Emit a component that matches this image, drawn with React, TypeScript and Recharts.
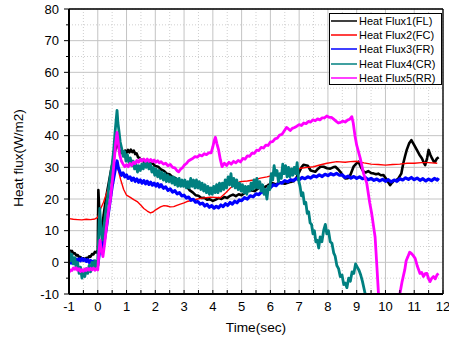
import React from 'react';
import { LineChart, Line, XAxis, YAxis, CartesianGrid, ReferenceLine, Legend } from 'recharts';

const FONT = "Arial, 'Liberation Sans', Helvetica, sans-serif";
const W = 449;
const H = 339;
const PL = 69;
const PT = 9;
const PR = 443;
const PB = 294;

const X_MAJOR = [-1, 0, 1, 2, 3, 4, 5, 6, 7, 8, 9, 10, 11, 12];
const X_MINOR = [-0.5, 0.5, 1.5, 2.5, 3.5, 4.5, 5.5, 6.5, 7.5, 8.5, 9.5, 10.5, 11.5];
const Y_MAJOR = [-10, 0, 10, 20, 30, 40, 50, 60, 70, 80];
const Y_MINOR = [-5, 5, 15, 25, 35, 45, 55, 65, 75];
const X_ALL = [...X_MAJOR, ...X_MINOR].sort((a, b) => a - b);
const Y_ALL = [...Y_MAJOR, ...Y_MINOR].sort((a, b) => a - b);

const NAMES = ['Heat Flux1(FL)', 'Heat Flux2(FC)', 'Heat Flux3(FR)', 'Heat Flux4(CR)', 'Heat Flux5(RR)'];
const COLORS = ['#000000', '#ff0000', '#0000ff', '#008080', '#ff00ff'];

// [time (sec), heat flux (W/m2)]
const FL: [number, number][] = [
  [-1, 4], [-0.95, 3.4], [-0.9, 3.6], [-0.85, 2.8], [-0.8, 2.9], [-0.75, 2.2], [-0.7, 2.3], [-0.65, 1.6], [-0.6, 1.7],
  [-0.55, 1.1], [-0.5, 1.3], [-0.45, 0.9], [-0.4, 1.4], [-0.35, 1.2], [-0.3, 1.9], [-0.25, 1.8], [-0.2, 2.6], [-0.15, 2.5],
  [-0.1, 3.3], [-0.05, 3.1], [0, 3.8], [0.02, 22.8], [0.05, 17], [0.08, 12], [0.12, 10], [0.17, 12.5], [0.22, 16],
  [0.3, 21], [0.38, 25], [0.46, 29], [0.54, 32.5], [0.62, 36], [0.66, 38.5], [0.7, 37], [0.75, 35.5], [0.8, 34.5],
  [0.85, 35.2], [0.9, 34.3], [0.95, 35.3], [1.0, 34.6], [1.05, 35.5], [1.1, 34.7], [1.15, 35.6], [1.2, 34.8], [1.25, 35.3],
  [1.3, 34.2], [1.35, 34.4], [1.4, 33.2], [1.45, 33.0], [1.5, 32.2], [1.55, 32.4], [1.6, 31.7], [1.7, 31.9], [1.8, 31.1],
  [1.9, 31.3], [2.0, 30.4], [2.1, 30.2], [2.2, 29.3], [2.3, 28.9], [2.4, 28.0], [2.5, 27.8], [2.6, 26.9], [2.7, 26.6],
  [2.8, 25.7], [2.9, 25.4], [3.0, 24.6], [3.1, 23.9], [3.2, 22.7], [3.3, 22.1], [3.4, 21.2], [3.5, 21.0], [3.6, 20.3],
  [3.7, 20.4], [3.8, 19.8], [3.9, 19.9], [4.0, 19.4], [4.1, 19.8], [4.2, 20.3], [4.3, 20.0], [4.4, 20.6], [4.5, 20.3],
  [4.6, 21.0], [4.7, 21.4], [4.8, 20.9], [4.9, 21.5], [5.0, 21.2], [5.15, 22.2], [5.3, 22.8], [5.45, 22.5], [5.6, 23.5],
  [5.75, 23.6], [5.9, 24.2], [6.05, 25.1], [6.2, 24.6], [6.35, 25.2], [6.5, 24.8], [6.65, 25.3], [6.8, 25.6], [6.9, 26.6],
  [7.0, 28.5], [7.08, 30], [7.15, 30.8], [7.3, 30.5], [7.4, 29], [7.56, 28.6], [7.65, 29.5], [7.74, 30.2], [7.85, 30.2],
  [7.97, 29.7], [8.08, 29.6], [8.18, 30.0], [8.26, 30.2], [8.35, 29.4], [8.43, 28.6], [8.52, 27.4], [8.6, 26.5], [8.7, 26.6],
  [8.78, 27.6], [8.84, 29], [8.89, 30.2], [8.97, 31.0], [9.06, 31.8], [9.15, 30.0], [9.24, 28.6], [9.32, 28.4], [9.4, 28.8],
  [9.5, 28.2], [9.58, 28.1], [9.67, 27.8], [9.75, 28.0], [9.84, 27.5], [9.93, 27.6], [10.05, 26.0], [10.16, 24.4],
  [10.23, 25.2], [10.3, 25.8], [10.38, 26.0], [10.45, 26.5], [10.55, 28], [10.62, 31.3], [10.68, 33.5], [10.74, 35.5],
  [10.82, 37.5], [10.9, 38.6], [11.0, 37], [11.09, 35.5], [11.18, 34], [11.27, 32.8], [11.33, 31.5], [11.38, 30.7],
  [11.45, 33], [11.5, 35.5], [11.56, 34], [11.62, 32.8], [11.68, 31.8], [11.73, 31.8], [11.79, 32.8], [11.85, 33.2],
];

const FC: [number, number][] = [
  [-1, 13.8], [-0.85, 13.6], [-0.7, 13.5], [-0.55, 13.4], [-0.4, 13.6], [-0.25, 13.5], [-0.1, 13.7], [0, 14.2],
  [0.08, 16.5], [0.2, 19], [0.35, 23], [0.5, 27], [0.62, 30], [0.7, 29.5], [0.8, 26], [0.9, 23], [1.0, 21.2],
  [1.13, 20.5], [1.25, 19.8], [1.37, 19.2], [1.5, 18.0], [1.6, 17.0], [1.72, 16.2], [1.83, 15.6], [1.92, 15.9],
  [2.0, 16.5], [2.18, 17.5], [2.3, 17.9], [2.41, 17.8], [2.52, 17.5], [2.64, 17.6], [2.75, 18.0], [2.87, 18.4],
  [3.0, 18.8], [3.1, 19.2], [3.33, 19.7], [3.57, 20.2], [3.91, 20.6], [4.26, 20.4], [4.45, 22], [4.6, 23.4],
  [4.8, 24.8], [4.95, 25.5], [5.2, 25.7], [5.42, 26], [5.65, 26.6], [5.88, 27], [6.1, 27.5], [6.34, 27.7],
  [6.69, 28.5], [7.04, 29.7], [7.3, 30], [7.5, 30.2], [7.75, 30.8], [7.97, 31.3], [8.31, 31.8], [8.6, 31.6],
  [8.78, 31.8], [9.0, 31.9], [9.25, 31.4], [9.5, 31.0], [9.75, 30.9], [10.0, 30.7], [10.25, 30.9], [10.5, 31.0],
  [10.75, 31.3], [11.0, 31.3], [11.25, 31.5], [11.5, 31.5], [11.8, 31.3],
];

const FR: [number, number][] = [
  [-1, -0.5], [-0.95, 0.4], [-0.9, -0.2], [-0.85, 0.7], [-0.8, 0.2], [-0.75, 1.0], [-0.7, 0.4], [-0.65, 1.1], [-0.6, 0.5],
  [-0.55, 1.2], [-0.5, 0.6], [-0.45, 1.0], [-0.4, 0.3], [-0.35, 0.8], [-0.3, 0.0], [-0.25, 0.6], [-0.2, -0.3], [-0.15, 0.4],
  [-0.1, -0.6], [-0.05, 0.0], [0, -1.0], [0.04, 2], [0.08, 5], [0.13, 6.5], [0.18, 4.5], [0.23, 7], [0.3, 11], [0.36, 15],
  [0.43, 19.5], [0.5, 24], [0.58, 28], [0.64, 31], [0.67, 32], [0.71, 30], [0.76, 28.8], [0.82, 27.5], [0.88, 28.2],
  [0.94, 27.0], [1.0, 27.6], [1.06, 26.5], [1.12, 27.0], [1.18, 25.9], [1.24, 26.6], [1.3, 25.6], [1.36, 26.3], [1.42, 25.3],
  [1.48, 26.0], [1.54, 25.0], [1.6, 25.8], [1.66, 24.8], [1.72, 25.6], [1.78, 24.6], [1.84, 25.3], [1.9, 24.4], [1.96, 25.0],
  [2.02, 24.1], [2.08, 24.8], [2.14, 23.8], [2.2, 24.5], [2.28, 23.4], [2.36, 23.8], [2.44, 22.7], [2.52, 23.2], [2.6, 22.2],
  [2.68, 22.6], [2.76, 21.6], [2.84, 22.0], [2.92, 21.0], [3.0, 21.2], [3.08, 20.3], [3.16, 20.6], [3.24, 19.6], [3.32, 19.9],
  [3.4, 19.0], [3.48, 19.2], [3.56, 18.4], [3.64, 18.7], [3.72, 17.8], [3.8, 18.3], [3.88, 17.4], [3.96, 17.9], [4.04, 17.1],
  [4.12, 17.7], [4.2, 17.2], [4.28, 18.1], [4.36, 17.6], [4.44, 18.5], [4.52, 18.0], [4.6, 18.9], [4.68, 18.4], [4.76, 19.3],
  [4.84, 18.8], [4.92, 19.7], [5.0, 19.5], [5.1, 20.4], [5.2, 20.0], [5.3, 21.0], [5.4, 20.7], [5.5, 21.6], [5.6, 21.4],
  [5.7, 22.3], [5.8, 22.0], [5.9, 23.0], [6.0, 23.6], [6.1, 24.5], [6.2, 24.2], [6.3, 25.2], [6.4, 25.0], [6.5, 25.8],
  [6.6, 25.4], [6.7, 26.1], [6.8, 25.8], [6.9, 26.5], [7.0, 26.1], [7.1, 26.8], [7.2, 26.4], [7.3, 27.0], [7.4, 26.6],
  [7.5, 27.3], [7.6, 27.0], [7.7, 27.6], [7.8, 27.1], [7.9, 27.8], [8.0, 27.4], [8.1, 28.0], [8.2, 27.6], [8.3, 28.1],
  [8.4, 27.5], [8.5, 27.6], [8.6, 26.8], [8.7, 27.2], [8.8, 26.6], [8.9, 27.1], [9.0, 26.5], [9.1, 27.0], [9.2, 26.4],
  [9.3, 26.8], [9.4, 26.1], [9.5, 26.5], [9.6, 25.9], [9.7, 26.3], [9.8, 25.7], [9.9, 26.2], [10.0, 25.6], [10.1, 26.1],
  [10.2, 25.4], [10.3, 26.0], [10.4, 25.6], [10.5, 26.4], [10.6, 26.0], [10.7, 26.7], [10.8, 26.2], [10.9, 26.8],
  [11.0, 26.1], [11.1, 26.6], [11.2, 25.9], [11.3, 26.4], [11.4, 25.7], [11.5, 26.3], [11.6, 25.8], [11.7, 26.5],
  [11.8, 26.0], [11.85, 26.6],
];

const CR: [number, number][] = [
  [-1, 3.5], [-0.95, 0.5], [-0.9, 2.5], [-0.85, -0.5], [-0.8, 1.5], [-0.75, -2], [-0.7, 0], [-0.65, -3.5], [-0.6, -1.5],
  [-0.55, -5], [-0.5, -2.5], [-0.45, -4.5], [-0.4, -2], [-0.35, -3.5], [-0.3, -1], [-0.25, -3], [-0.2, 0], [-0.15, -2],
  [-0.1, 0.5], [-0.05, -1.5], [0, 1], [0.04, 10], [0.07, 17], [0.1, 12], [0.15, 7], [0.2, 10], [0.25, 14], [0.3, 18],
  [0.35, 21], [0.4, 25], [0.45, 28], [0.5, 31], [0.55, 35], [0.6, 41], [0.64, 45], [0.67, 48], [0.7, 44], [0.73, 42],
  [0.78, 38], [0.83, 36], [0.88, 33.5], [0.93, 35], [0.98, 32], [1.03, 34], [1.08, 31.5], [1.13, 33], [1.18, 30.5],
  [1.23, 32], [1.28, 29.5], [1.33, 31], [1.38, 28.5], [1.43, 30.5], [1.48, 29], [1.53, 31], [1.58, 29.5], [1.63, 31.5],
  [1.68, 30], [1.73, 32], [1.78, 29.5], [1.83, 31], [1.88, 28.5], [1.93, 30], [1.98, 27.5], [2.03, 29.5], [2.08, 27],
  [2.13, 29], [2.18, 26.5], [2.23, 28.5], [2.28, 26], [2.33, 28], [2.38, 25.5], [2.43, 27.5], [2.48, 25.5], [2.53, 27],
  [2.58, 25], [2.63, 27], [2.68, 24.5], [2.73, 26.5], [2.78, 24], [2.83, 26.5], [2.88, 24], [2.93, 26], [2.98, 24],
  [3.03, 26], [3.08, 23.5], [3.13, 25.5], [3.18, 23.5], [3.23, 26.5], [3.28, 24], [3.33, 26], [3.38, 23.5], [3.43, 26],
  [3.48, 23.5], [3.53, 25.5], [3.58, 23], [3.63, 25], [3.68, 22.5], [3.73, 24.5], [3.78, 22], [3.83, 24], [3.88, 21.5],
  [3.93, 23.5], [3.98, 21.5], [4.03, 24], [4.08, 22], [4.13, 24.5], [4.18, 22], [4.23, 25], [4.28, 22.5], [4.33, 25],
  [4.38, 23], [4.43, 26], [4.48, 23.5], [4.53, 27], [4.58, 24.5], [4.63, 28], [4.68, 24], [4.73, 26.5], [4.78, 23.5],
  [4.83, 26], [4.88, 23], [4.93, 25], [4.98, 22.5], [5.03, 24.5], [5.08, 22], [5.13, 24], [5.18, 21.5], [5.23, 24],
  [5.28, 22.5], [5.33, 25], [5.38, 23], [5.43, 26], [5.48, 23.5], [5.53, 26.5], [5.58, 23.5], [5.63, 25.5], [5.68, 22.5],
  [5.73, 24.5], [5.78, 21.5], [5.83, 23], [5.88, 20], [5.93, 24], [5.98, 23], [6.03, 28], [6.08, 26], [6.13, 30.5],
  [6.18, 27.5], [6.23, 29], [6.28, 25.5], [6.33, 28], [6.38, 26.5], [6.43, 31], [6.48, 28], [6.53, 30.5], [6.58, 27],
  [6.63, 30], [6.68, 27], [6.73, 29.5], [6.78, 27.5], [6.83, 30], [6.88, 28], [6.93, 31.5], [6.98, 26], [7.03, 24],
  [7.08, 21], [7.13, 22], [7.18, 18.5], [7.23, 19], [7.28, 15.5], [7.33, 16], [7.38, 12.5], [7.43, 12], [7.48, 9],
  [7.53, 10], [7.58, 6.5], [7.63, 7], [7.68, 4.5], [7.73, 8], [7.79, 6.5], [7.85, 10], [7.91, 12], [7.96, 9], [8.02, 10],
  [8.08, 6.5], [8.14, 6], [8.2, 3], [8.25, 2], [8.31, -1], [8.37, -2], [8.43, -4.5], [8.49, -4], [8.55, -7], [8.6, -6.5],
  [8.66, -8], [8.72, -5], [8.78, -6], [8.84, -3], [8.9, -3.5], [8.96, -0.5], [9.02, -1.5], [9.08, -2.5], [9.14, -4],
  [9.2, -6], [9.26, -8.5], [9.32, -11], [9.36, -13],
];

const RR: [number, number][] = [
  [-1, -3.2], [-0.95, -2.4], [-0.9, -2.6], [-0.85, -1.8], [-0.8, -2.2], [-0.75, -1.7], [-0.7, -2.5], [-0.65, -2.0],
  [-0.6, -2.9], [-0.55, -2.3], [-0.5, -2.8], [-0.45, -2.1], [-0.4, -2.6], [-0.35, -1.9], [-0.3, -2.5], [-0.25, -1.9],
  [-0.2, -2.4], [-0.15, -1.8], [-0.1, -2.5], [-0.05, -2.0], [0, -2.4], [0.04, 3], [0.08, 7], [0.12, 4], [0.18, 1.8],
  [0.24, 6], [0.3, 11], [0.37, 16], [0.44, 20], [0.52, 27], [0.58, 33], [0.62, 37.5], [0.67, 41], [0.71, 38], [0.76, 34],
  [0.82, 32], [0.88, 31], [0.94, 30.2], [1.0, 30.8], [1.06, 30.2], [1.12, 31.2], [1.18, 30.6], [1.24, 31.6], [1.3, 31.2],
  [1.36, 32.2], [1.42, 31.6], [1.48, 32.6], [1.54, 32.0], [1.6, 32.6], [1.66, 31.9], [1.72, 32.6], [1.78, 31.9],
  [1.84, 32.5], [1.9, 31.8], [1.96, 32.3], [2.02, 31.6], [2.08, 32.1], [2.14, 31.4], [2.2, 31.8], [2.28, 31.0],
  [2.36, 31.3], [2.44, 30.5], [2.52, 30.9], [2.6, 30.0], [2.68, 29.8], [2.76, 28.9], [2.81, 28.6], [2.88, 29.4],
  [2.94, 29.8], [3.0, 30.6], [3.08, 31.2], [3.15, 32.0], [3.22, 32.4], [3.3, 32.8], [3.38, 33.4], [3.46, 33.2],
  [3.54, 33.9], [3.62, 33.6], [3.7, 34.3], [3.78, 34.0], [3.86, 34.6], [3.94, 34.6], [4.0, 36.5], [4.05, 38.5],
  [4.09, 39.5], [4.14, 37.5], [4.2, 35.5], [4.26, 32.5], [4.32, 30.2], [4.4, 31.3], [4.48, 30.6], [4.56, 31.6],
  [4.64, 31.0], [4.72, 31.9], [4.8, 31.4], [4.88, 32.2], [4.96, 31.7], [5.04, 32.8], [5.12, 32.6], [5.2, 33.6],
  [5.28, 33.5], [5.36, 34.5], [5.44, 34.4], [5.52, 35.4], [5.6, 35.3], [5.68, 36.3], [5.76, 36.1], [5.84, 37.0],
  [5.92, 36.9], [6.0, 38.0], [6.08, 38.1], [6.16, 39.0], [6.24, 39.2], [6.32, 40.2], [6.4, 40.4], [6.48, 41.5],
  [6.56, 42.6], [6.62, 42.2], [6.69, 41.6], [6.76, 42.3], [6.84, 42.6], [6.92, 43.0], [7.0, 43.5], [7.08, 43.2],
  [7.16, 44.0], [7.24, 43.8], [7.32, 44.5], [7.4, 44.3], [7.48, 45.0], [7.56, 44.7], [7.64, 45.3], [7.72, 45.0],
  [7.8, 45.6], [7.88, 45.6], [7.96, 46.2], [8.04, 45.8], [8.12, 45.8], [8.2, 45.2], [8.28, 44.6], [8.36, 44.0],
  [8.44, 44.2], [8.52, 44.6], [8.6, 44.3], [8.68, 44.9], [8.76, 45.2], [8.83, 46], [8.88, 44], [8.94, 40], [9.0, 37],
  [9.12, 33], [9.24, 28], [9.35, 25], [9.45, 19], [9.52, 15.5], [9.6, 10.5], [9.64, 8], [9.7, -1], [9.76, -10.3],
  [9.8, -14], [10.45, -14], [10.5, -10], [10.58, -6], [10.67, -2.4], [10.72, 0.5], [10.78, 1.8], [10.84, 3.2],
  [10.9, 2.8], [10.96, 2.2], [11.03, 1.3], [11.1, -1.0], [11.2, -3.5], [11.26, -3.2], [11.32, -4.5], [11.38, -3.6],
  [11.44, -3.5], [11.5, -5.2], [11.55, -6.1], [11.61, -5.0], [11.67, -4.5], [11.73, -5.2], [11.79, -4], [11.84, -3.5],
];

const SERIES = [FL, FC, FR, CR, RR];
const WIDTHS = [2.6, 1.4, 3.2, 2.8, 2.8];

const toRows = (pts: [number, number][]) => pts.map(([t, v]) => ({ t, v }));

const XTick = (props: any) => {
  const { x, payload } = props;
  const val = payload.value;
  const major = Number.isInteger(val);
  return (
    <g>
      <line x1={x} x2={x} y1={PB} y2={PB - 4} stroke="#000" strokeWidth={1} />
      {major && (
        <text x={x} y={311} textAnchor="middle" fontSize={13} fontFamily={FONT} fill="#000">
          {String(val)}
        </text>
      )}
    </g>
  );
};

const YTick = (props: any) => {
  const { y, payload } = props;
  const val = payload.value;
  const major = val % 10 === 0;
  return (
    <g>
      <line x1={PL - (major ? 5 : 3)} x2={PL} y1={y} y2={y} stroke="#000" strokeWidth={1} />
      {major && (
        <text x={59} y={y + 4.6} textAnchor="end" fontSize={13} fontFamily={FONT} fill="#000">
          {String(val)}
        </text>
      )}
    </g>
  );
};

const XLabel = () => (
  <text x={256} y={332} textAnchor="middle" fontSize={13.7} fontFamily={FONT} fill="#000">
    Time(sec)
  </text>
);

const YLabel = () => (
  <text x={0} y={0} transform="translate(23,158) rotate(-90)" textAnchor="middle" fontSize={13.5} fontFamily={FONT} fill="#000">
    Heat flux(W/m2)
  </text>
);

const LegendBox = () => (
  <div
    style={{
      boxSizing: 'border-box',
      width: 113,
      height: 72,
      border: '1px solid #000',
      background: '#fff',
      fontFamily: FONT,
      fontSize: 11,
      color: '#000',
      paddingTop: 0,
    }}
  >
    {NAMES.map((n, i) => (
      <div key={n} style={{ height: 14.2, display: 'flex', alignItems: 'center', whiteSpace: 'nowrap' }}>
        <svg width={29} height={14} style={{ display: 'block', flex: 'none' }}>
          <line x1={1} x2={27} y1={7} y2={7} stroke={COLORS[i]} strokeWidth={1.5} />
        </svg>
        <span style={{ lineHeight: '14px' }}>{n}</span>
      </div>
    ))}
  </div>
);

export default function App() {
  return (
    <div style={{ position: 'absolute', left: 0, top: 0, width: W, height: H, overflow: 'hidden', background: '#fff' }}>
      <LineChart width={W} height={H} margin={{ top: PT, right: W - PR, bottom: 0, left: 0 }}>
        <XAxis xAxisId="maj" type="number" dataKey="t" domain={[-1, 12]} ticks={X_MAJOR} hide allowDataOverflow />
        <XAxis xAxisId="min" type="number" dataKey="t" domain={[-1, 12]} ticks={X_MINOR} hide allowDataOverflow />
        <YAxis yAxisId="maj" type="number" domain={[-10, 80]} ticks={Y_MAJOR} hide allowDataOverflow />
        <YAxis yAxisId="min" type="number" domain={[-10, 80]} ticks={Y_MINOR} hide allowDataOverflow />
        <CartesianGrid xAxisId="min" yAxisId="min" stroke="#cfcfcf" strokeDasharray="1 2" />
        <CartesianGrid xAxisId="maj" yAxisId="maj" stroke="#c4c4c4" strokeWidth={1} />
        <XAxis
          type="number"
          dataKey="t"
          domain={[-1, 12]}
          ticks={X_ALL}
          interval={0}
          allowDataOverflow
          height={H - PB}
          tickLine={false}
          tick={<XTick />}
          axisLine={{ stroke: '#000', strokeWidth: 2 }}
          label={<XLabel />}
        />
        <YAxis
          type="number"
          domain={[-10, 80]}
          ticks={Y_ALL}
          interval={0}
          allowDataOverflow
          width={PL}
          tickLine={false}
          tick={<YTick />}
          axisLine={{ stroke: '#000', strokeWidth: 2 }}
          label={<YLabel />}
        />
        {SERIES.map((s, i) => (
          <Line
            key={NAMES[i]}
            name={NAMES[i]}
            data={toRows(s)}
            dataKey="v"
            type="linear"
            stroke={COLORS[i]}
            strokeWidth={WIDTHS[i]}
            dot={false}
            activeDot={false}
            isAnimationActive={false}
            strokeLinejoin="round"
          />
        ))}
        <ReferenceLine y={80} stroke="#000" strokeWidth={1.3} />
        <ReferenceLine x={12} stroke="#000" strokeWidth={1.3} />
        <Legend
          layout="vertical"
          align="center"
          verticalAlign="middle"
          content={<LegendBox />}
          wrapperStyle={{ left: 329, top: 13, width: 113, height: 72 }}
        />
      </LineChart>
    </div>
  );
}
